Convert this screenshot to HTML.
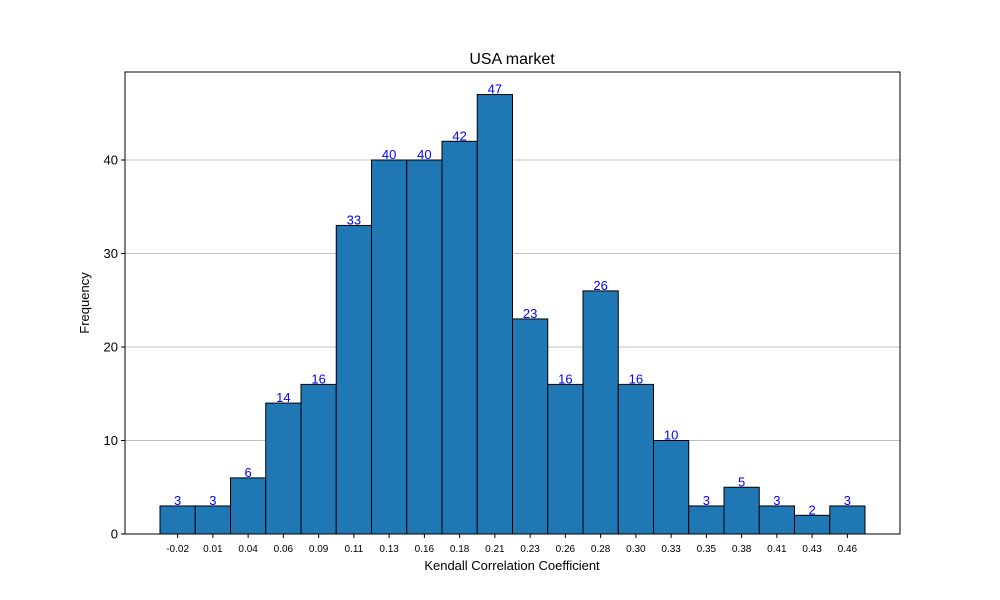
<!DOCTYPE html>
<html><head><meta charset="utf-8"><style>
body{margin:0;background:#fff;}
svg{display:block;font-family:"Liberation Sans","DejaVu Sans",sans-serif;}
</style></head><body>
<svg id="chart" width="1000" height="600" xmlns="http://www.w3.org/2000/svg">
<rect x="0" y="0" width="1000" height="600" fill="#fff"/>
<text x="512" y="64" font-size="16" text-anchor="middle">USA market</text>
<text x="512" y="570" font-size="13" text-anchor="middle">Kendall Correlation Coefficient</text>
<text x="89" y="303" font-size="13" text-anchor="middle" transform="rotate(-90 89 303)">Frequency</text>
<g id="grid"></g><g id="bars"></g><g id="labels"></g><g id="axes"></g>
</svg>
<script>
const categories=["-0.02","0.01","0.04","0.06","0.09","0.11","0.13","0.16","0.18","0.21","0.23","0.26","0.28","0.30","0.33","0.35","0.38","0.41","0.43","0.46"];
const counts=[3,3,6,14,16,33,40,40,42,47,23,16,26,16,10,3,5,3,2,3];
const yTicks=[0,10,20,30,40];
const NS="http://www.w3.org/2000/svg";
const L=125,R=900,T=72,B=534;
const barStart=160,barW=35.25;
const yScale=v=>B-v*9.35;
const xLeft=i=>barStart+i*barW;
function mk(tag,attrs,parent,txt){const e=document.createElementNS(NS,tag);for(const k in attrs)e.setAttribute(k,attrs[k]);if(txt!==undefined)e.textContent=txt;document.getElementById(parent).appendChild(e);return e;}
yTicks.forEach(v=>{
  if(v>0){const g=mk('line',{x1:L,x2:R,y1:yScale(v),y2:yScale(v),stroke:'#c0c0c0','stroke-width':1},'grid');
  
  }
  const t=mk('line',{x1:L-4,x2:L,y1:yScale(v),y2:yScale(v),stroke:'#000'},'axes');
  
  
  const tl=mk('text',{x:L-7,y:yScale(v)+4.5,'font-size':13,'text-anchor':'end'},'axes',String(v));
  
  
});
counts.forEach((c,i)=>{
  const x=xLeft(i),y=yScale(c);
  const r=mk('rect',{x:x,y:y,width:barW,height:B-y,fill:'#1f77b4',stroke:'#000','stroke-width':1},'bars');
  
  
  const v=mk('text',{x:x+barW/2,y:y-1,'font-size':13,fill:'#0000ff','text-anchor':'middle'},'labels',String(c));
  
  
  const tk=mk('line',{x1:x+barW/2,x2:x+barW/2,y1:B,y2:B+4,stroke:'#000'},'axes');
  
  
  const tl=mk('text',{x:x+barW/2,y:B+18,'font-size':10,'text-anchor':'middle'},'axes',categories[i]);
  
  
});
const frame=mk('rect',{x:L,y:T,width:R-L,height:B-T,fill:'none',stroke:'#000','stroke-width':1},'axes');


</script>
</body></html>
